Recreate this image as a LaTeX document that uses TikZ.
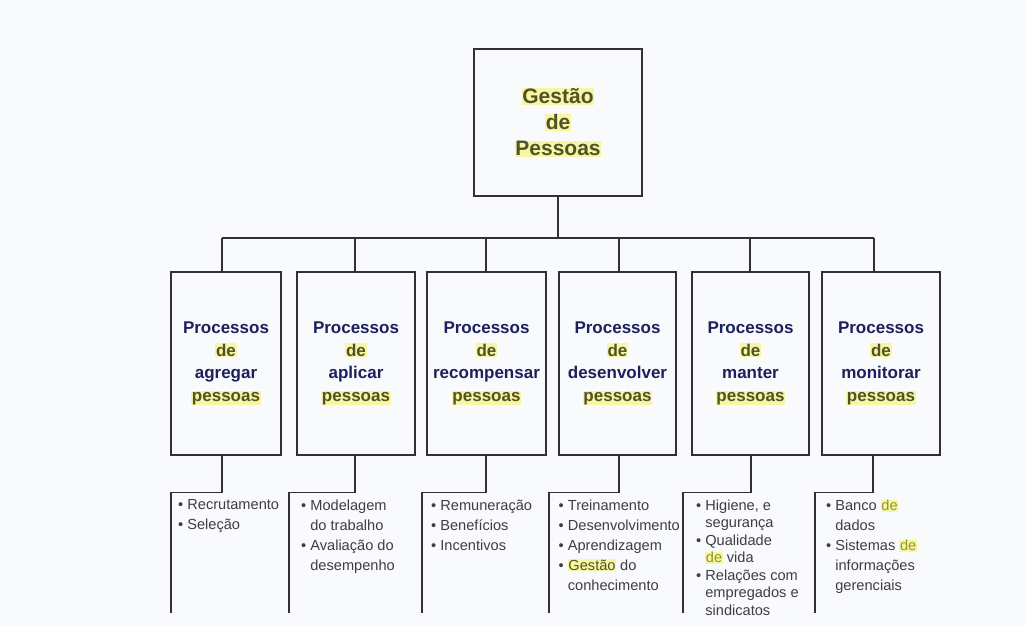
\documentclass[tikz,border=0pt]{standalone}
\usepackage{fontspec}
\setmainfont{Liberation Sans}
\definecolor{bgc}{RGB}{248,250,252}
\definecolor{navy}{RGB}{28,32,92}
\definecolor{olivetx}{RGB}{82,82,38}
\definecolor{olivelt}{RGB}{150,150,40}
\definecolor{hly}{RGB}{246,246,165}
\definecolor{lineclr}{RGB}{48,48,54}
\definecolor{txtgray}{RGB}{62,62,66}
\newcommand{\hlw}[2][olivetx]{{\setlength{\fboxsep}{0.6pt}\colorbox{hly}{\textcolor{#1}{#2}}}}
\newcommand{\ind}{\phantom{•~}}
\begin{document}
\begin{tikzpicture}[x=1pt,y=-1pt,
  box/.style={draw=lineclr, line width=1.4pt, fill=bgc, inner sep=0pt},
  toptxt/.style={align=center, font={\fontsize{21}{26}\selectfont\bfseries}, text=olivetx},
  proctxt/.style={align=center, font={\fontsize{17}{22.5}\selectfont\bfseries}, text=navy},
  listtxt/.style={anchor=north west, inner sep=0pt, align=left, text=txtgray, font={\fontsize{14.6}{20}\selectfont}},
  conn/.style={draw=lineclr, line width=1.4pt}]
\fill[bgc] (0,0) rectangle (1025,625);
\useasboundingbox (0,0) rectangle (1025,625);

% top box
\node[box, toptxt, minimum width=168pt, minimum height=147pt] (top) at (558,122.5)
  {\hlw{Gestão}\\\hlw{de}\\\hlw{Pessoas}};

% child boxes
\node[box, proctxt, minimum width=110pt, minimum height=183pt] (c1) at (226,363.5)
  {Processos\\\hlw{de}\\agregar\\\hlw{pessoas}};
\node[box, proctxt, minimum width=118pt, minimum height=183pt] (c2) at (356,363.5)
  {Processos\\\hlw{de}\\aplicar\\\hlw{pessoas}};
\node[box, proctxt, minimum width=119pt, minimum height=183pt] (c3) at (486.5,363.5)
  {Processos\\\hlw{de}\\recompensar\\\hlw{pessoas}};
\node[box, proctxt, minimum width=117pt, minimum height=183pt] (c4) at (617.5,363.5)
  {Processos\\\hlw{de}\\desenvolver\\\hlw{pessoas}};
\node[box, proctxt, minimum width=117pt, minimum height=183pt] (c5) at (750.5,363.5)
  {Processos\\\hlw{de}\\manter\\\hlw{pessoas}};
\node[box, proctxt, minimum width=118pt, minimum height=183pt] (c6) at (881,363.5)
  {Processos\\\hlw{de}\\monitorar\\\hlw{pessoas}};

% junctions on the bar
\coordinate (j1) at (222,238);
\coordinate (j2) at (355,238);
\coordinate (j3) at (486,238);
\coordinate (j4) at (619,238);
\coordinate (j5) at (750,238);
\coordinate (j6) at (874,238);

\draw[conn] (top.south) -- (top.south |- j1);
\draw[conn] (j1) -- (j6);
\foreach \k in {1,...,6} {
  \draw[conn] (j\k) -- (j\k |- c\k.north);
}

% lower branch ends
\coordinate (e1) at (171,613);
\coordinate (e2) at (289,613);
\coordinate (e3) at (422,613);
\coordinate (e4) at (549,613);
\coordinate (e5) at (683,613);
\coordinate (e6) at (815,613);
\coordinate (b1) at (222,455);
\coordinate (b2) at (355,455);
\coordinate (b3) at (486,455);
\coordinate (b4) at (619,455);
\coordinate (b5) at (751,455);
\coordinate (b6) at (873,455);
\foreach \k in {1,...,6} {
  \draw[conn] (b\k |- c\k.south) -- ++(0,37) -| (e\k);
}

% lists
\node[listtxt] (l1) at (178,499.5) {•~Recrutamento\\•~Seleção};
\node[listtxt] (l2) at (301,499.5) {•~Modelagem\\\ind do trabalho\\•~Avaliação do\\\ind desempenho};
\node[listtxt] (l3) at (431,499.5) {•~Remuneração\\•~Benefícios\\•~Incentivos};
\node[listtxt] (l4) at (558.5,499.5) {•~Treinamento\\•~Desenvolvimento\\•~Aprendizagem\\•~\hlw{Gestão} do\\\ind conhecimento};
\node[listtxt, font={\fontsize{14.6}{17.5}\selectfont}] (l5) at (696,499.5)
  {•~Higiene, e\\\ind segurança\\•~Qualidade\\\ind\hlw[olivelt]{de} vida\\•~Relações com\\\ind empregados e\\\ind sindicatos};
\node[listtxt] (l6) at (826,499.5) {•~Banco \hlw[olivelt]{de}\\\ind dados\\•~Sistemas \hlw[olivelt]{de}\\\ind informações\\\ind gerenciais};
\end{tikzpicture}
\end{document}
